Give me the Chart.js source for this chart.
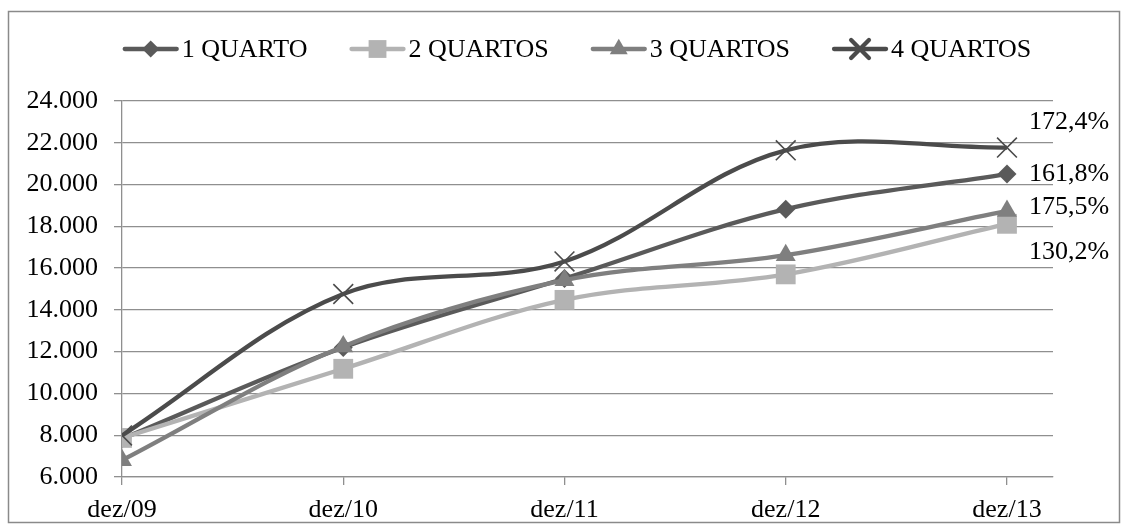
<!DOCTYPE html>
<html>
<head>
<meta charset="utf-8">
<script src="https://cdn.jsdelivr.net/npm/chart.js@4/dist/chart.umd.min.js"></script>
<style>
  html, body { margin: 0; padding: 0; background: #fff; }
  #wrap { width: 1131px; height: 532px; }
</style>
</head>
<body>
<div id="wrap"><canvas id="c" width="1131" height="532"></canvas></div>
<script>
// Preço médio por número de quartos, dezembro de cada ano
const periods = ['dez/09', 'dez/10', 'dez/11', 'dez/12', 'dez/13'];
const umQuarto = [7830, 12200, 15500, 18820, 20500];
const doisQuartos = [7870, 11180, 14480, 15700, 18120];
const tresQuartos = [6800, 12250, 15420, 16620, 18740];
const quatroQuartos = [7990, 14760, 16320, 21640, 21770];
const seriesNames = ['1 QUARTO', '2 QUARTOS', '3 QUARTOS', '4 QUARTOS'];
const growthLabels = ['161,8%', '130,2%', '175,5%', '172,4%'];
const yMin = 6000, yMax = 24000, yStep = 2000;

const FONT = "'Liberation Serif', 'Times New Roman', serif";
const GRID = '#8f8f8f';

const seriesStyle = [
  { color: '#5a5a5a', marker: 'rectRot', size: 9.5, border: 0, labelDy: 0, order: 3 },
  { color: '#b3b3b3', marker: 'rect', size: 14, border: 0, labelDy: 28, order: 2 },
  { color: '#7f7f7f', marker: 'triangle', size: 11.5, border: 0, labelDy: -4, order: 1 },
  { color: '#4b4b4b', marker: 'crossRot', size: 14, border: 1.6, labelDy: -25, order: 0 }
];

const seriesValues = [umQuarto, doisQuartos, tresQuartos, quatroQuartos];

const datasets = seriesValues.map((vals, s) => {
  const st = seriesStyle[s];
  return {
    label: seriesNames[s],
    data: vals.map((v, i) => ({ x: i, y: v })),
    borderColor: st.color,
    backgroundColor: st.color,
    borderWidth: 4.3,
    tension: 0.35,
    pointStyle: st.marker,
    pointRadius: st.size,
    pointBackgroundColor: st.color,
    pointBorderColor: st.color,
    pointBorderWidth: st.border,
    order: st.order
  };
});

function fmtThousands(v) {
  return String(Math.round(v)).replace(/\B(?=(\d{3})+(?!\d))/g, '.');
}

// Outer frame around the whole chart
const framePlugin = {
  id: 'frame',
  beforeDraw(chart) {
    const ctx = chart.ctx;
    ctx.save();
    ctx.fillStyle = '#ffffff';
    ctx.fillRect(0, 0, chart.width, chart.height);
    ctx.strokeStyle = '#8a8a8a';
    ctx.lineWidth = 1.5;
    ctx.strokeRect(8.5, 11.5, 1111, 511);
    ctx.restore();
  }
};

// Legend with a line sample and the series marker
const lineLegendPlugin = {
  id: 'lineLegend',
  afterDraw(chart) {
    const ctx = chart.ctx;
    ctx.save();
    ctx.font = '26px ' + FONT;
    const sample = 56, gapText = 3, gapItem = 42;
    const widths = seriesNames.map(n => sample + gapText + ctx.measureText(n).width);
    const total = widths.reduce((a, b) => a + b, 0) + gapItem * (widths.length - 1);
    let x = 577 - total / 2;
    const y = 49;
    seriesNames.forEach((name, s) => {
      const st = seriesStyle[s];
      ctx.strokeStyle = st.color;
      ctx.lineWidth = 4.3;
      ctx.lineCap = 'round';
      ctx.beginPath();
      ctx.moveTo(x + 2, y);
      ctx.lineTo(x + sample - 2, y);
      ctx.stroke();
      ctx.fillStyle = st.color;
      Chart.helpers.drawPoint(ctx, {
        pointStyle: st.marker,
        radius: st.size * 0.9,
        rotation: 0,
        borderWidth: st.border
      }, x + sample / 2, y);
      ctx.fillStyle = '#000';
      ctx.textAlign = 'left';
      ctx.textBaseline = 'middle';
      ctx.fillText(name, x + sample + gapText, y + 1);
      x += widths[s] + gapItem;
    });
    ctx.restore();
  }
};

// Growth percentages beside the last point of each series
const growthPlugin = {
  id: 'growth',
  afterDatasetsDraw(chart) {
    const ctx = chart.ctx;
    ctx.save();
    ctx.font = '26px ' + FONT;
    ctx.fillStyle = '#000';
    ctx.textAlign = 'left';
    ctx.textBaseline = 'middle';
    chart.data.datasets.forEach((ds, s) => {
      const meta = chart.getDatasetMeta(s);
      const pt = meta.data[meta.data.length - 1];
      ctx.fillText(growthLabels[s], pt.x + 22, pt.y + seriesStyle[s].labelDy);
    });
    ctx.restore();
  }
};

new Chart(document.getElementById('c'), {
  type: 'line',
  data: { datasets },
  options: {
    responsive: false,
    animation: false,
    devicePixelRatio: 1,
    layout: { padding: { top: 101, right: 78, bottom: 8, left: 0 } },
    plugins: { legend: { display: false }, tooltip: { enabled: false } },
    scales: {
      x: {
        type: 'linear',
        min: 0,
        max: 4.208,
        afterBuildTicks: s => { s.ticks = periods.map((_, i) => ({ value: i })); },
        afterFit: s => { s.height = 47; },
        ticks: {
          callback: v => periods[v],
          font: { family: FONT, size: 26 },
          color: '#000',
          padding: 10,
          maxRotation: 0,
          autoSkip: false
        },
        grid: { drawOnChartArea: false, drawTicks: true, tickLength: 8, color: GRID, lineWidth: 1.3 },
        border: { display: true, color: GRID, width: 1.3 }
      },
      y: {
        min: yMin,
        max: yMax,
        afterFit: s => { s.width = 122; },
        ticks: {
          stepSize: yStep,
          callback: v => fmtThousands(v),
          font: { family: FONT, size: 26 },
          color: '#000',
          padding: 16
        },
        grid: { color: GRID, lineWidth: 1.3, tickLength: 8 },
        border: { display: true, color: GRID, width: 1.3 }
      }
    }
  },
  plugins: [framePlugin, lineLegendPlugin, growthPlugin]
});
</script>
</body>
</html>
